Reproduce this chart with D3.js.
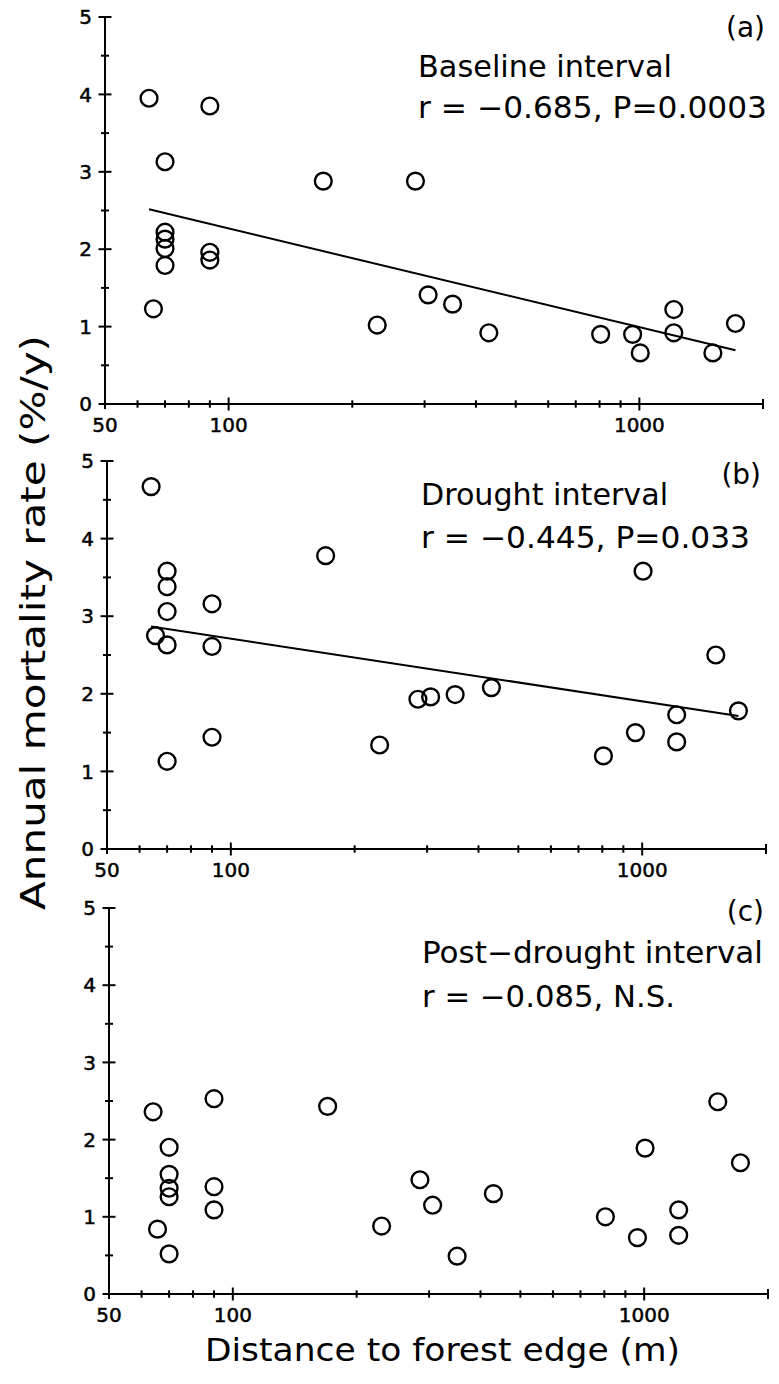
<!DOCTYPE html>
<html>
<head>
<meta charset="utf-8">
<script src="https://cdn.jsdelivr.net/npm/d3@7"></script>
<style>
  body { margin: 0; background: #fff; }
  svg { display: block; }
  text { font-family: "DejaVu Sans", sans-serif; fill: #000; }
</style>
</head>
<body>
<svg id="chart" width="779" height="1384"></svg>
<script>
// distance of each plot to the forest edge (m), same sites in all three panels
const distance = [64, 65.6, 70, 70, 70, 70, 70, 90, 90, 90, 170, 230, 285, 306, 351, 430, 805, 963, 1005, 1213, 1213, 1510, 1714];
// annual mortality rate (%/y) per interval
const baseline    = [3.95, 1.23, 3.13, 2.22, 2.13, 2.01, 1.79, 3.85, 1.96, 1.86, 2.88, 1.02, 2.88, 1.41, 1.29, 0.92, 0.90, 0.90, 0.66, 1.22, 0.92, 0.66, 1.04];
const drought     = [4.67, 2.75, 3.58, 3.38, 3.06, 2.63, 1.13, 3.16, 2.61, 1.44, 3.78, 1.34, 1.93, 1.96, 1.99, 2.08, 1.20, 1.50, 3.58, 1.73, 1.38, 2.50, 1.78];
const postDrought = [2.36, 0.84, 1.90, 1.55, 1.37, 1.26, 0.52, 2.53, 1.39, 1.09, 2.43, 0.88, 1.48, 1.15, 0.49, 1.30, 1.00, 0.73, 1.89, 1.09, 0.76, 2.49, 1.70];

const panelLetters = ["(a)", "(b)", "(c)"];
const panelTitles = ["Baseline interval", "Drought interval", "Post\u2212drought interval"];
const panelStats = ["r = \u22120.685, P=0.0003", "r = \u22120.445, P=0.033", "r = \u22120.085, N.S."];
const showFit = [true, true, false];
const xDomain = [50, 2000];
const yDomain = [0, 5];
const xTickLabels = [50, 100, 1000];
const yTickLabels = [0, 1, 2, 3, 4, 5];

// layout (panels are slightly skewed)
const panels = [
  {left: 105, right: 763, top: 17,  bottom: 404,  textX: 418, titleY: 77,  titleW: 254, statY: 118,  statW: 349, letterX: 765, letterY: 37},
  {left: 107, right: 766, top: 461, bottom: 849,  textX: 421, titleY: 505, titleW: 247, statY: 548,  statW: 329, letterX: 761, letterY: 484},
  {left: 109, right: 768, top: 908, bottom: 1294, textX: 422, titleY: 963, titleW: 341, statY: 1007, statW: 253, letterX: 764, letterY: 921}
];
const series = [baseline, drought, postDrought];

const svg = d3.select("#chart");

function fitLine(xs, ys) {
  const lx = xs.map(d => Math.log10(d));
  const mx = d3.mean(lx), my = d3.mean(ys);
  let sxy = 0, sxx = 0;
  lx.forEach((v, i) => { sxy += (v - mx) * (ys[i] - my); sxx += (v - mx) * (v - mx); });
  const b = sxy / sxx;
  return d => my + b * (Math.log10(d) - mx);
}

panels.forEach((p, k) => {
  const x = d3.scaleLog().domain(xDomain).range([p.left, p.right]);
  const y = d3.scaleLinear().domain(yDomain).range([p.bottom, p.top]);
  const g = svg.append("g").attr("stroke", "#000").attr("stroke-width", 2).attr("fill", "none");

  // axes
  g.append("line").attr("x1", x(xDomain[0])).attr("x2", x(xDomain[1]))
    .attr("y1", y(0)).attr("y2", y(0));
  g.append("line").attr("x1", x(xDomain[0])).attr("x2", x(xDomain[0]))
    .attr("y1", y(yDomain[1])).attr("y2", y(0) + 5);

  // x ticks (log minor ticks cross the axis)
  x.ticks().forEach(t => {
    if (t === xDomain[0]) return;
    const len = xTickLabels.includes(t) ? 6.5 : (t === xDomain[1] ? 5 : 3.7);
    g.append("line").attr("x1", x(t)).attr("x2", x(t))
      .attr("y1", y(0) - len).attr("y2", y(0) + len);
  });

  // y ticks
  d3.range(0, 5.01, 0.5).forEach(t => {
    const len = Number.isInteger(t) ? 6.5 : 4;
    g.append("line").attr("x1", x(xDomain[0]) - len).attr("x2", x(xDomain[0]) + len)
      .attr("y1", y(t)).attr("y2", y(t));
  });

  // tick labels
  svg.append("g").attr("stroke", "#000").attr("stroke-width", 0.5)
    .selectAll("text").data(yTickLabels).join("text")
    .attr("x", x(xDomain[0]) - 13).attr("y", d => y(d)).attr("dy", "0.36em")
    .attr("text-anchor", "end").attr("font-size", 20).text(d => d);
  svg.append("g").attr("stroke", "#000").attr("stroke-width", 0.5)
    .selectAll("text").data(xTickLabels).join("text")
    .attr("x", d => x(d)).attr("y", y(0) + 28)
    .attr("text-anchor", "middle").attr("font-size", 20).text(d => d);

  // regression line
  if (showFit[k]) {
    const f = fitLine(distance, series[k]);
    const ends = d3.extent(distance);
    g.append("line").attr("x1", x(ends[0])).attr("y1", y(f(ends[0])))
      .attr("x2", x(ends[1])).attr("y2", y(f(ends[1])));
  }

  // points
  g.append("g").selectAll("circle").data(series[k]).join("circle")
    .attr("cx", (d, i) => x(distance[i])).attr("cy", d => y(d)).attr("r", 8.4)
    .attr("stroke-width", 2.4);

  // annotations
  svg.append("text").attr("x", p.letterX).attr("y", p.letterY)
    .attr("text-anchor", "end").attr("font-size", 28).text(panelLetters[k]);
  svg.append("text").attr("x", p.textX).attr("y", p.titleY).attr("font-size", 30)
    .attr("textLength", p.titleW).attr("lengthAdjust", "spacingAndGlyphs").text(panelTitles[k]);
  svg.append("text").attr("x", p.textX).attr("y", p.statY).attr("font-size", 30)
    .attr("textLength", p.statW).attr("lengthAdjust", "spacingAndGlyphs").text(panelStats[k]);
});

// axis titles
svg.append("text").attr("transform", "translate(45,910) rotate(-90)")
  .attr("font-size", 34).attr("textLength", 575).attr("lengthAdjust", "spacingAndGlyphs")
  .text("Annual mortality rate (%/y)");
svg.append("text").attr("x", 205).attr("y", 1361).attr("font-size", 32)
  .attr("textLength", 475).attr("lengthAdjust", "spacingAndGlyphs")
  .text("Distance to forest edge (m)");
</script>
</body>
</html>
